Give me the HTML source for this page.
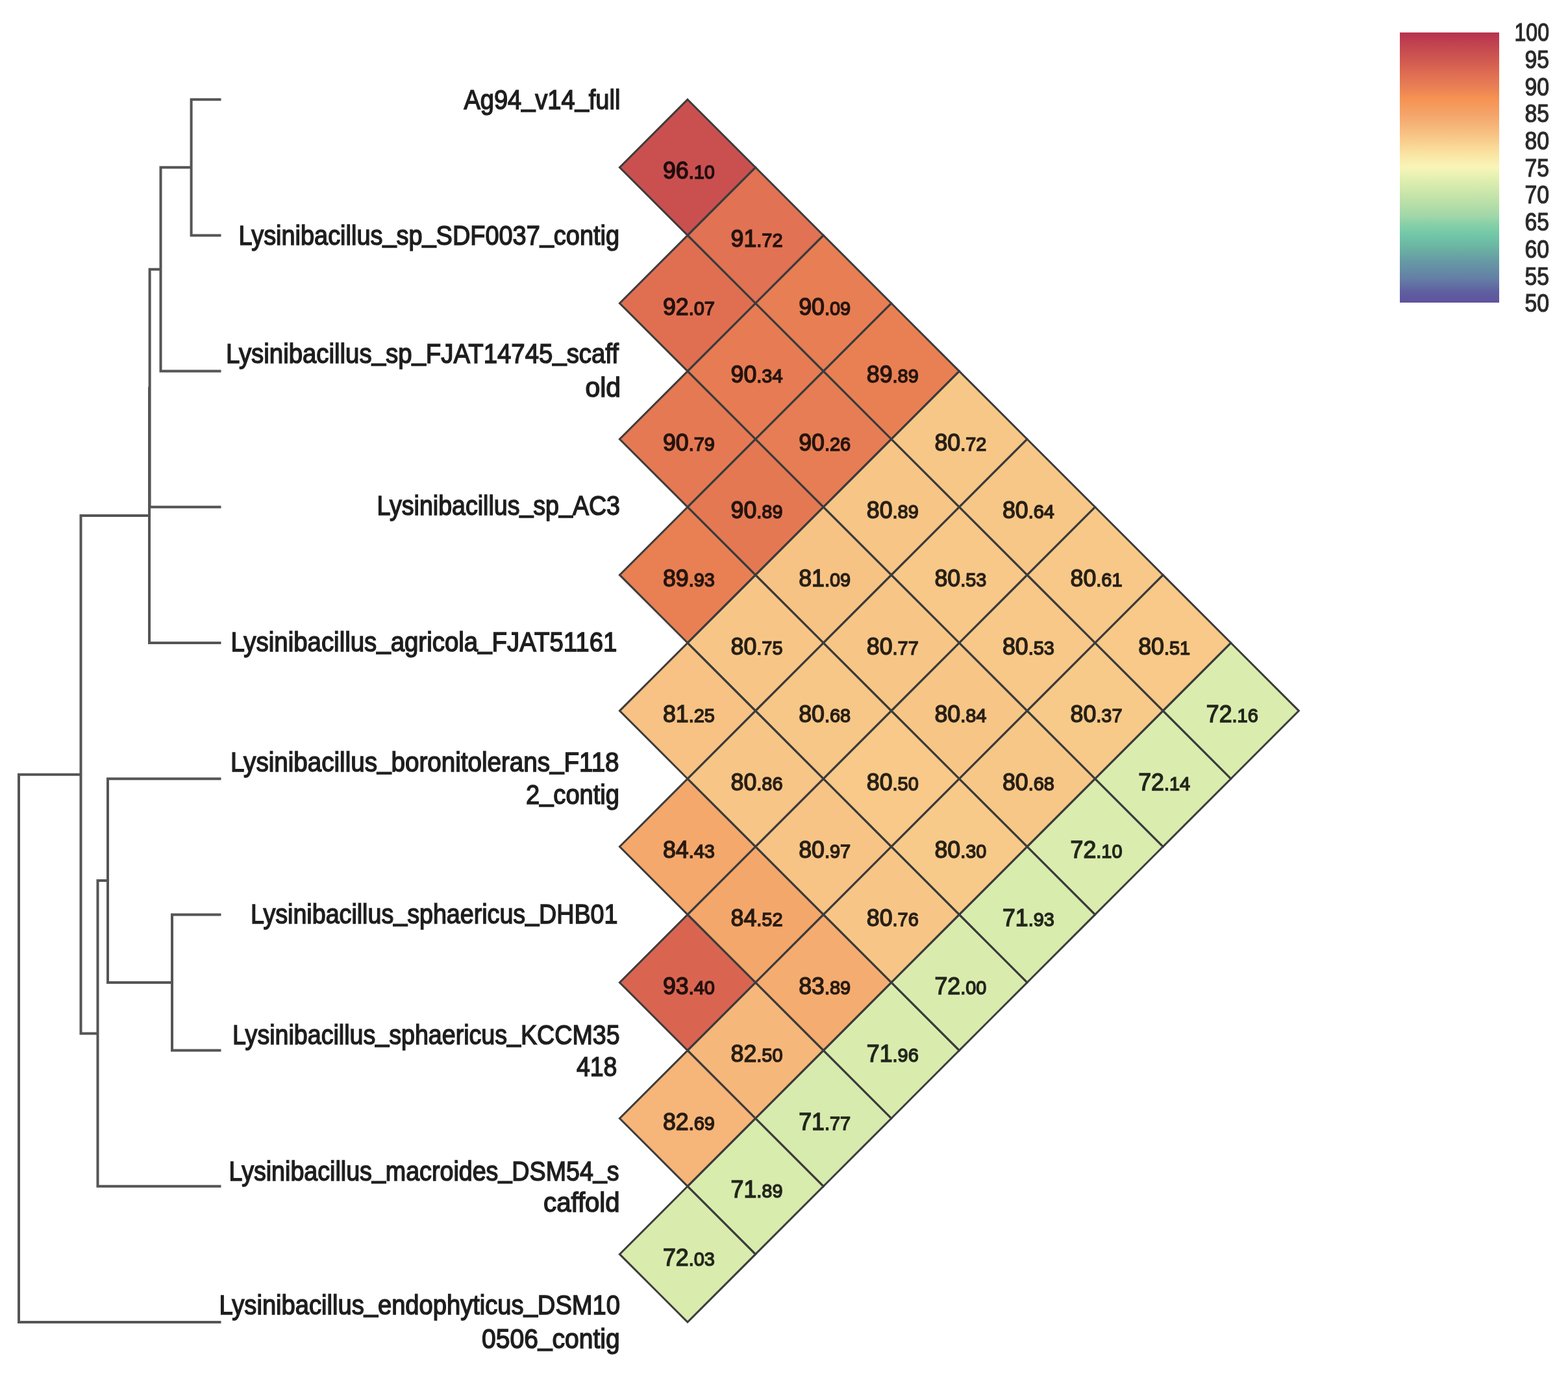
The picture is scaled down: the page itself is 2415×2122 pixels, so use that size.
<!DOCTYPE html>
<html><head><meta charset="utf-8"><title>ANI heatmap</title>
<style>
html,body{margin:0;padding:0;background:#fff;}
svg{display:block;}
text{font-family:"Liberation Sans",Arial,sans-serif;}
.lab text{font-size:42px;fill:#1e1e1e;stroke:#1e1e1e;stroke-width:1.5;text-anchor:end;}
.num text{font-size:37px;fill:#000;stroke:#000;stroke-width:1.5;text-anchor:middle;}
.num .sm{font-size:30px;}
.lab .us{baseline-shift:4px;}
.tick text{font-size:38px;fill:#2a2a2a;stroke:#2a2a2a;stroke-width:1.2;text-anchor:end;}
</style></head>
<body>
<svg width="2415" height="2122" viewBox="0 0 2415 2122">
<defs><linearGradient id="cb" x1="0" y1="0" x2="0" y2="1"><stop offset="0.0%" stop-color="#b6324e"/><stop offset="5.0%" stop-color="#c34650"/><stop offset="10.0%" stop-color="#d05850"/><stop offset="15.0%" stop-color="#de6c52"/><stop offset="20.0%" stop-color="#e87f54"/><stop offset="24.4%" stop-color="#f69252"/><stop offset="30.0%" stop-color="#f4a368"/><stop offset="35.0%" stop-color="#f6b77a"/><stop offset="40.0%" stop-color="#f8cd8c"/><stop offset="45.0%" stop-color="#fae4a2"/><stop offset="50.0%" stop-color="#f8f5b9"/><stop offset="54.0%" stop-color="#e2f0b0"/><stop offset="58.0%" stop-color="#d0e8ac"/><stop offset="62.0%" stop-color="#bee1a8"/><stop offset="65.0%" stop-color="#afdca8"/><stop offset="68.0%" stop-color="#a0d7a8"/><stop offset="71.0%" stop-color="#87d0a8"/><stop offset="74.6%" stop-color="#72c8a8"/><stop offset="80.0%" stop-color="#6ab2a2"/><stop offset="85.0%" stop-color="#6698a5"/><stop offset="91.0%" stop-color="#6480a5"/><stop offset="96.0%" stop-color="#5f5fa0"/><stop offset="100.0%" stop-color="#5f529e"/></linearGradient></defs>
<rect width="2415" height="2122" fill="#fff"/>
<g class="tree"><path d="M294.6 153.2H338.5 M294.6 362.4H338.5 M247.5 571.6H338.5 M230.6 780.8H338.5 M230 990H338.5 M166 1199.2H338.5 M265 1408.4H338.5 M265 1617.6H338.5 M150.5 1826.8H338.5 M29 2036H338.5 M294.6 153.2V362.4 M247.5 257.8H294.6 M247.5 257.8V571.6 M230.6 414.7H247.5 M230.6 414.7V780.8 M230 597.8V990 M265 1408.4V1617.6 M166 1513H265 M166 1199.2V1513 M150.5 1356.1H166 M150.5 1356.1V1826.8 M124.5 793.9H230 M124.5 1591.4H150.5 M124.5 793.9V1591.4 M29 1192.7H124.5 M29 1192.7V2036" fill="none" stroke="#555" stroke-width="4" stroke-linecap="square"/></g>
<g class="lab">
<text x="955.4" y="168.0" textLength="241.0" lengthAdjust="spacingAndGlyphs">Ag94<tspan class="us">_</tspan>v14<tspan class="us">_</tspan>full</text>
<text x="954.0" y="377.1" textLength="586.5" lengthAdjust="spacingAndGlyphs">Lysinibacillus<tspan class="us">_</tspan>sp<tspan class="us">_</tspan>SDF0037<tspan class="us">_</tspan>contig</text>
<text x="953.0" y="558.8" textLength="605.0" lengthAdjust="spacingAndGlyphs">Lysinibacillus<tspan class="us">_</tspan>sp<tspan class="us">_</tspan>FJAT14745<tspan class="us">_</tspan>scaff</text>
<text x="956.0" y="610.5" textLength="54.5" lengthAdjust="spacingAndGlyphs">old</text>
<text x="955.0" y="792.9" textLength="374.5" lengthAdjust="spacingAndGlyphs">Lysinibacillus<tspan class="us">_</tspan>sp<tspan class="us">_</tspan>AC3</text>
<text x="950.4" y="1003.1" textLength="595.0" lengthAdjust="spacingAndGlyphs">Lysinibacillus<tspan class="us">_</tspan>agricola<tspan class="us">_</tspan>FJAT51161</text>
<text x="953.6" y="1187.7" textLength="598.5" lengthAdjust="spacingAndGlyphs">Lysinibacillus<tspan class="us">_</tspan>boronitolerans<tspan class="us">_</tspan>F118</text>
<text x="954.0" y="1237.8" textLength="144.0" lengthAdjust="spacingAndGlyphs">2<tspan class="us">_</tspan>contig</text>
<text x="951.4" y="1422.4" textLength="565.5" lengthAdjust="spacingAndGlyphs">Lysinibacillus<tspan class="us">_</tspan>sphaericus<tspan class="us">_</tspan>DHB01</text>
<text x="954.6" y="1608.1" textLength="596.5" lengthAdjust="spacingAndGlyphs">Lysinibacillus<tspan class="us">_</tspan>sphaericus<tspan class="us">_</tspan>KCCM35</text>
<text x="950.4" y="1656.5" textLength="62.5" lengthAdjust="spacingAndGlyphs">418</text>
<text x="953.6" y="1817.5" textLength="601.0" lengthAdjust="spacingAndGlyphs">Lysinibacillus<tspan class="us">_</tspan>macroides<tspan class="us">_</tspan>DSM54<tspan class="us">_</tspan>s</text>
<text x="954.6" y="1866.0" textLength="117.5" lengthAdjust="spacingAndGlyphs">caffold</text>
<text x="955.0" y="2024.1" textLength="617.5" lengthAdjust="spacingAndGlyphs">Lysinibacillus<tspan class="us">_</tspan>endophyticus<tspan class="us">_</tspan>DSM10</text>
<text x="954.6" y="2075.8" textLength="212.5" lengthAdjust="spacingAndGlyphs">0506<tspan class="us">_</tspan>contig</text>
</g>
<g class="cells">
<polygon points="1059,153.2 1163.6,257.8 1059,362.4 954.4,257.8" fill="#ca5050"/>
<polygon points="1059,362.4 1163.6,467 1059,571.6 954.4,467" fill="#e06f52"/>
<polygon points="1059,571.6 1163.6,676.2 1059,780.8 954.4,676.2" fill="#e57953"/>
<polygon points="1059,780.8 1163.6,885.4 1059,990 954.4,885.4" fill="#e88054"/>
<polygon points="1059,990 1163.6,1094.6 1059,1199.2 954.4,1094.6" fill="#f7c283"/>
<polygon points="1059,1199.2 1163.6,1303.8 1059,1408.4 954.4,1303.8" fill="#f4a86c"/>
<polygon points="1059,1408.4 1163.6,1513 1059,1617.6 954.4,1513" fill="#d96551"/>
<polygon points="1059,1617.6 1163.6,1722.2 1059,1826.8 954.4,1722.2" fill="#f6b579"/>
<polygon points="1059,1826.8 1163.6,1931.4 1059,2036 954.4,1931.4" fill="#d9ecae"/>
<polygon points="1163.6,257.8 1268.2,362.4 1163.6,467 1059,362.4" fill="#e17253"/>
<polygon points="1163.6,467 1268.2,571.6 1163.6,676.2 1059,571.6" fill="#e77c54"/>
<polygon points="1163.6,676.2 1268.2,780.8 1163.6,885.4 1059,780.8" fill="#e47853"/>
<polygon points="1163.6,885.4 1268.2,990 1163.6,1094.6 1059,990" fill="#f7c687"/>
<polygon points="1163.6,1094.6 1268.2,1199.2 1163.6,1303.8 1059,1199.2" fill="#f7c586"/>
<polygon points="1163.6,1303.8 1268.2,1408.4 1163.6,1513 1059,1408.4" fill="#f4a76b"/>
<polygon points="1163.6,1513 1268.2,1617.6 1163.6,1722.2 1059,1617.6" fill="#f6b77a"/>
<polygon points="1163.6,1722.2 1268.2,1826.8 1163.6,1931.4 1059,1826.8" fill="#d8ecae"/>
<polygon points="1268.2,362.4 1372.8,467 1268.2,571.6 1163.6,467" fill="#e87e54"/>
<polygon points="1268.2,571.6 1372.8,676.2 1268.2,780.8 1163.6,676.2" fill="#e77d54"/>
<polygon points="1268.2,780.8 1372.8,885.4 1268.2,990 1163.6,885.4" fill="#f7c384"/>
<polygon points="1268.2,990 1372.8,1094.6 1268.2,1199.2 1163.6,1094.6" fill="#f7c787"/>
<polygon points="1268.2,1199.2 1372.8,1303.8 1268.2,1408.4 1163.6,1303.8" fill="#f7c485"/>
<polygon points="1268.2,1408.4 1372.8,1513 1268.2,1617.6 1163.6,1513" fill="#f5ac70"/>
<polygon points="1268.2,1617.6 1372.8,1722.2 1268.2,1826.8 1163.6,1722.2" fill="#d7ebae"/>
<polygon points="1372.8,467 1477.4,571.6 1372.8,676.2 1268.2,571.6" fill="#e98054"/>
<polygon points="1372.8,676.2 1477.4,780.8 1372.8,885.4 1268.2,780.8" fill="#f7c586"/>
<polygon points="1372.8,885.4 1477.4,990 1372.8,1094.6 1268.2,990" fill="#f7c686"/>
<polygon points="1372.8,1094.6 1477.4,1199.2 1372.8,1303.8 1268.2,1199.2" fill="#f8c988"/>
<polygon points="1372.8,1303.8 1477.4,1408.4 1372.8,1513 1268.2,1408.4" fill="#f7c687"/>
<polygon points="1372.8,1513 1477.4,1617.6 1372.8,1722.2 1268.2,1617.6" fill="#d9ecae"/>
<polygon points="1477.4,571.6 1582,676.2 1477.4,780.8 1372.8,676.2" fill="#f7c787"/>
<polygon points="1477.4,780.8 1582,885.4 1477.4,990 1372.8,885.4" fill="#f8c888"/>
<polygon points="1477.4,990 1582,1094.6 1477.4,1199.2 1372.8,1094.6" fill="#f7c686"/>
<polygon points="1477.4,1199.2 1582,1303.8 1477.4,1408.4 1372.8,1303.8" fill="#f8ca8a"/>
<polygon points="1477.4,1408.4 1582,1513 1477.4,1617.6 1372.8,1513" fill="#d9ecae"/>
<polygon points="1582,676.2 1686.6,780.8 1582,885.4 1477.4,780.8" fill="#f7c787"/>
<polygon points="1582,885.4 1686.6,990 1582,1094.6 1477.4,990" fill="#f8c888"/>
<polygon points="1582,1094.6 1686.6,1199.2 1582,1303.8 1477.4,1199.2" fill="#f7c787"/>
<polygon points="1582,1303.8 1686.6,1408.4 1582,1513 1477.4,1408.4" fill="#d8ecae"/>
<polygon points="1686.6,780.8 1791.2,885.4 1686.6,990 1582,885.4" fill="#f8c888"/>
<polygon points="1686.6,990 1791.2,1094.6 1686.6,1199.2 1582,1094.6" fill="#f8ca89"/>
<polygon points="1686.6,1199.2 1791.2,1303.8 1686.6,1408.4 1582,1303.8" fill="#daecae"/>
<polygon points="1791.2,885.4 1895.8,990 1791.2,1094.6 1686.6,990" fill="#f8c988"/>
<polygon points="1791.2,1094.6 1895.8,1199.2 1791.2,1303.8 1686.6,1199.2" fill="#daedae"/>
<polygon points="1895.8,990 2000.4,1094.6 1895.8,1199.2 1791.2,1094.6" fill="#daedae"/>
</g>
<g class="grid" fill="none" stroke="#3c3c3c" stroke-width="3" stroke-linejoin="miter">
<polygon points="1059,153.2 1163.6,257.8 1059,362.4 954.4,257.8"/>
<polygon points="1059,362.4 1163.6,467 1059,571.6 954.4,467"/>
<polygon points="1059,571.6 1163.6,676.2 1059,780.8 954.4,676.2"/>
<polygon points="1059,780.8 1163.6,885.4 1059,990 954.4,885.4"/>
<polygon points="1059,990 1163.6,1094.6 1059,1199.2 954.4,1094.6"/>
<polygon points="1059,1199.2 1163.6,1303.8 1059,1408.4 954.4,1303.8"/>
<polygon points="1059,1408.4 1163.6,1513 1059,1617.6 954.4,1513"/>
<polygon points="1059,1617.6 1163.6,1722.2 1059,1826.8 954.4,1722.2"/>
<polygon points="1059,1826.8 1163.6,1931.4 1059,2036 954.4,1931.4"/>
<polygon points="1163.6,257.8 1268.2,362.4 1163.6,467 1059,362.4"/>
<polygon points="1163.6,467 1268.2,571.6 1163.6,676.2 1059,571.6"/>
<polygon points="1163.6,676.2 1268.2,780.8 1163.6,885.4 1059,780.8"/>
<polygon points="1163.6,885.4 1268.2,990 1163.6,1094.6 1059,990"/>
<polygon points="1163.6,1094.6 1268.2,1199.2 1163.6,1303.8 1059,1199.2"/>
<polygon points="1163.6,1303.8 1268.2,1408.4 1163.6,1513 1059,1408.4"/>
<polygon points="1163.6,1513 1268.2,1617.6 1163.6,1722.2 1059,1617.6"/>
<polygon points="1163.6,1722.2 1268.2,1826.8 1163.6,1931.4 1059,1826.8"/>
<polygon points="1268.2,362.4 1372.8,467 1268.2,571.6 1163.6,467"/>
<polygon points="1268.2,571.6 1372.8,676.2 1268.2,780.8 1163.6,676.2"/>
<polygon points="1268.2,780.8 1372.8,885.4 1268.2,990 1163.6,885.4"/>
<polygon points="1268.2,990 1372.8,1094.6 1268.2,1199.2 1163.6,1094.6"/>
<polygon points="1268.2,1199.2 1372.8,1303.8 1268.2,1408.4 1163.6,1303.8"/>
<polygon points="1268.2,1408.4 1372.8,1513 1268.2,1617.6 1163.6,1513"/>
<polygon points="1268.2,1617.6 1372.8,1722.2 1268.2,1826.8 1163.6,1722.2"/>
<polygon points="1372.8,467 1477.4,571.6 1372.8,676.2 1268.2,571.6"/>
<polygon points="1372.8,676.2 1477.4,780.8 1372.8,885.4 1268.2,780.8"/>
<polygon points="1372.8,885.4 1477.4,990 1372.8,1094.6 1268.2,990"/>
<polygon points="1372.8,1094.6 1477.4,1199.2 1372.8,1303.8 1268.2,1199.2"/>
<polygon points="1372.8,1303.8 1477.4,1408.4 1372.8,1513 1268.2,1408.4"/>
<polygon points="1372.8,1513 1477.4,1617.6 1372.8,1722.2 1268.2,1617.6"/>
<polygon points="1477.4,571.6 1582,676.2 1477.4,780.8 1372.8,676.2"/>
<polygon points="1477.4,780.8 1582,885.4 1477.4,990 1372.8,885.4"/>
<polygon points="1477.4,990 1582,1094.6 1477.4,1199.2 1372.8,1094.6"/>
<polygon points="1477.4,1199.2 1582,1303.8 1477.4,1408.4 1372.8,1303.8"/>
<polygon points="1477.4,1408.4 1582,1513 1477.4,1617.6 1372.8,1513"/>
<polygon points="1582,676.2 1686.6,780.8 1582,885.4 1477.4,780.8"/>
<polygon points="1582,885.4 1686.6,990 1582,1094.6 1477.4,990"/>
<polygon points="1582,1094.6 1686.6,1199.2 1582,1303.8 1477.4,1199.2"/>
<polygon points="1582,1303.8 1686.6,1408.4 1582,1513 1477.4,1408.4"/>
<polygon points="1686.6,780.8 1791.2,885.4 1686.6,990 1582,885.4"/>
<polygon points="1686.6,990 1791.2,1094.6 1686.6,1199.2 1582,1094.6"/>
<polygon points="1686.6,1199.2 1791.2,1303.8 1686.6,1408.4 1582,1303.8"/>
<polygon points="1791.2,885.4 1895.8,990 1791.2,1094.6 1686.6,990"/>
<polygon points="1791.2,1094.6 1895.8,1199.2 1791.2,1303.8 1686.6,1199.2"/>
<polygon points="1895.8,990 2000.4,1094.6 1895.8,1199.2 1791.2,1094.6"/>
</g>
<g class="num" opacity="0.84">
<text x="1061" y="275.3" textLength="80" lengthAdjust="spacingAndGlyphs">96<tspan class="sm">.10</tspan></text>
<text x="1061" y="484.5" textLength="80" lengthAdjust="spacingAndGlyphs">92<tspan class="sm">.07</tspan></text>
<text x="1061" y="693.7" textLength="80" lengthAdjust="spacingAndGlyphs">90<tspan class="sm">.79</tspan></text>
<text x="1061" y="902.9" textLength="80" lengthAdjust="spacingAndGlyphs">89<tspan class="sm">.93</tspan></text>
<text x="1061" y="1112.1" textLength="80" lengthAdjust="spacingAndGlyphs">81<tspan class="sm">.25</tspan></text>
<text x="1061" y="1321.3" textLength="80" lengthAdjust="spacingAndGlyphs">84<tspan class="sm">.43</tspan></text>
<text x="1061" y="1530.5" textLength="80" lengthAdjust="spacingAndGlyphs">93<tspan class="sm">.40</tspan></text>
<text x="1061" y="1739.7" textLength="80" lengthAdjust="spacingAndGlyphs">82<tspan class="sm">.69</tspan></text>
<text x="1061" y="1948.9" textLength="80" lengthAdjust="spacingAndGlyphs">72<tspan class="sm">.03</tspan></text>
<text x="1165.6" y="379.9" textLength="80" lengthAdjust="spacingAndGlyphs">91<tspan class="sm">.72</tspan></text>
<text x="1165.6" y="589.1" textLength="80" lengthAdjust="spacingAndGlyphs">90<tspan class="sm">.34</tspan></text>
<text x="1165.6" y="798.3" textLength="80" lengthAdjust="spacingAndGlyphs">90<tspan class="sm">.89</tspan></text>
<text x="1165.6" y="1007.5" textLength="80" lengthAdjust="spacingAndGlyphs">80<tspan class="sm">.75</tspan></text>
<text x="1165.6" y="1216.7" textLength="80" lengthAdjust="spacingAndGlyphs">80<tspan class="sm">.86</tspan></text>
<text x="1165.6" y="1425.9" textLength="80" lengthAdjust="spacingAndGlyphs">84<tspan class="sm">.52</tspan></text>
<text x="1165.6" y="1635.1" textLength="80" lengthAdjust="spacingAndGlyphs">82<tspan class="sm">.50</tspan></text>
<text x="1165.6" y="1844.3" textLength="80" lengthAdjust="spacingAndGlyphs">71<tspan class="sm">.89</tspan></text>
<text x="1270.2" y="484.5" textLength="80" lengthAdjust="spacingAndGlyphs">90<tspan class="sm">.09</tspan></text>
<text x="1270.2" y="693.7" textLength="80" lengthAdjust="spacingAndGlyphs">90<tspan class="sm">.26</tspan></text>
<text x="1270.2" y="902.9" textLength="80" lengthAdjust="spacingAndGlyphs">81<tspan class="sm">.09</tspan></text>
<text x="1270.2" y="1112.1" textLength="80" lengthAdjust="spacingAndGlyphs">80<tspan class="sm">.68</tspan></text>
<text x="1270.2" y="1321.3" textLength="80" lengthAdjust="spacingAndGlyphs">80<tspan class="sm">.97</tspan></text>
<text x="1270.2" y="1530.5" textLength="80" lengthAdjust="spacingAndGlyphs">83<tspan class="sm">.89</tspan></text>
<text x="1270.2" y="1739.7" textLength="80" lengthAdjust="spacingAndGlyphs">71<tspan class="sm">.77</tspan></text>
<text x="1374.8" y="589.1" textLength="80" lengthAdjust="spacingAndGlyphs">89<tspan class="sm">.89</tspan></text>
<text x="1374.8" y="798.3" textLength="80" lengthAdjust="spacingAndGlyphs">80<tspan class="sm">.89</tspan></text>
<text x="1374.8" y="1007.5" textLength="80" lengthAdjust="spacingAndGlyphs">80<tspan class="sm">.77</tspan></text>
<text x="1374.8" y="1216.7" textLength="80" lengthAdjust="spacingAndGlyphs">80<tspan class="sm">.50</tspan></text>
<text x="1374.8" y="1425.9" textLength="80" lengthAdjust="spacingAndGlyphs">80<tspan class="sm">.76</tspan></text>
<text x="1374.8" y="1635.1" textLength="80" lengthAdjust="spacingAndGlyphs">71<tspan class="sm">.96</tspan></text>
<text x="1479.4" y="693.7" textLength="80" lengthAdjust="spacingAndGlyphs">80<tspan class="sm">.72</tspan></text>
<text x="1479.4" y="902.9" textLength="80" lengthAdjust="spacingAndGlyphs">80<tspan class="sm">.53</tspan></text>
<text x="1479.4" y="1112.1" textLength="80" lengthAdjust="spacingAndGlyphs">80<tspan class="sm">.84</tspan></text>
<text x="1479.4" y="1321.3" textLength="80" lengthAdjust="spacingAndGlyphs">80<tspan class="sm">.30</tspan></text>
<text x="1479.4" y="1530.5" textLength="80" lengthAdjust="spacingAndGlyphs">72<tspan class="sm">.00</tspan></text>
<text x="1584" y="798.3" textLength="80" lengthAdjust="spacingAndGlyphs">80<tspan class="sm">.64</tspan></text>
<text x="1584" y="1007.5" textLength="80" lengthAdjust="spacingAndGlyphs">80<tspan class="sm">.53</tspan></text>
<text x="1584" y="1216.7" textLength="80" lengthAdjust="spacingAndGlyphs">80<tspan class="sm">.68</tspan></text>
<text x="1584" y="1425.9" textLength="80" lengthAdjust="spacingAndGlyphs">71<tspan class="sm">.93</tspan></text>
<text x="1688.6" y="902.9" textLength="80" lengthAdjust="spacingAndGlyphs">80<tspan class="sm">.61</tspan></text>
<text x="1688.6" y="1112.1" textLength="80" lengthAdjust="spacingAndGlyphs">80<tspan class="sm">.37</tspan></text>
<text x="1688.6" y="1321.3" textLength="80" lengthAdjust="spacingAndGlyphs">72<tspan class="sm">.10</tspan></text>
<text x="1793.2" y="1007.5" textLength="80" lengthAdjust="spacingAndGlyphs">80<tspan class="sm">.51</tspan></text>
<text x="1793.2" y="1216.7" textLength="80" lengthAdjust="spacingAndGlyphs">72<tspan class="sm">.14</tspan></text>
<text x="1897.8" y="1112.1" textLength="80" lengthAdjust="spacingAndGlyphs">72<tspan class="sm">.16</tspan></text>
</g>
<rect x="2156" y="50" width="153" height="416" fill="url(#cb)"/>
<g class="tick">
<text x="2386" y="63" textLength="53.5" lengthAdjust="spacingAndGlyphs">100</text>
<text x="2386" y="104.7" textLength="37.5" lengthAdjust="spacingAndGlyphs">95</text>
<text x="2386" y="146.5" textLength="37.5" lengthAdjust="spacingAndGlyphs">90</text>
<text x="2386" y="188.2" textLength="37.5" lengthAdjust="spacingAndGlyphs">85</text>
<text x="2386" y="230" textLength="37.5" lengthAdjust="spacingAndGlyphs">80</text>
<text x="2386" y="271.7" textLength="37.5" lengthAdjust="spacingAndGlyphs">75</text>
<text x="2386" y="313.4" textLength="37.5" lengthAdjust="spacingAndGlyphs">70</text>
<text x="2386" y="355.2" textLength="37.5" lengthAdjust="spacingAndGlyphs">65</text>
<text x="2386" y="396.9" textLength="37.5" lengthAdjust="spacingAndGlyphs">60</text>
<text x="2386" y="438.7" textLength="37.5" lengthAdjust="spacingAndGlyphs">55</text>
<text x="2386" y="480.4" textLength="37.5" lengthAdjust="spacingAndGlyphs">50</text>
</g>
</svg>
</body></html>
